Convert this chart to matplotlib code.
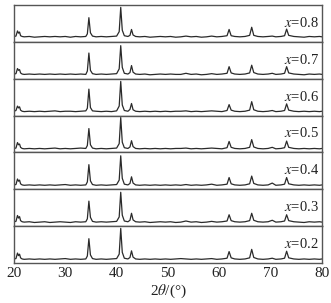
import matplotlib
matplotlib.use("Agg")
import matplotlib.pyplot as plt

plt.rcParams["mathtext.fontset"] = "stix"

# 2theta grid (deg) shared by every pattern
two_theta = [
    20.0, 20.4, 20.7, 20.9, 21.1, 21.3, 21.6, 22.0, 23.0, 24.0,
    25.0, 26.0, 27.0, 28.0, 29.0, 30.0, 31.0, 32.0, 33.0, 34.0,
    34.3, 34.6, 34.9, 35.3, 36.0, 37.0, 38.0, 39.0, 40.0, 40.5,
    40.8, 41.1, 41.5, 42.2, 42.6, 42.9, 43.2, 43.7, 44.5, 45.5,
    46.5, 47.5, 48.5, 49.5, 50.5, 51.5, 52.5, 53.5, 54.5, 55.5,
    56.5, 57.5, 58.5, 59.5, 60.5, 61.5, 61.9, 62.3, 63.0, 64.0,
    65.0, 65.9, 66.3, 66.7, 67.5, 68.5, 69.5, 70.3, 71.0, 72.0,
    72.7, 73.1, 73.5, 74.5, 75.5, 76.5, 77.5, 78.5, 79.5, 80.0,
]

labels = ["0.8", "0.7", "0.6", "0.5", "0.4", "0.3", "0.2"]

# intensities (a.u.), top panel to bottom
i_08 = [15, 16, 30, 24, 27, 17, 15, 14, 15, 13,
        14, 15, 14, 15, 14, 15, 13, 15, 14, 15,
        22, 66, 25, 16, 14, 15, 14, 15, 16, 28,
        94, 32, 17, 15, 18, 34, 19, 15, 14, 15,
        13, 14, 15, 14, 15, 13, 14, 16, 14, 15,
        13, 14, 16, 14, 15, 17, 34, 17, 15, 14,
        15, 18, 40, 18, 15, 14, 15, 16, 14, 15,
        17, 35, 18, 15, 14, 13, 15, 14, 15, 14]
i_07 = [13, 14, 28, 23, 25, 16, 13, 12, 13, 12,
        13, 12, 13, 12, 13, 12, 13, 12, 13, 12,
        21, 70, 23, 14, 12, 13, 12, 13, 14, 27,
        90, 31, 15, 13, 17, 36, 18, 13, 12, 13,
        11, 12, 13, 12, 13, 12, 12, 15, 12, 13,
        11, 12, 14, 12, 13, 15, 33, 16, 13, 12,
        13, 16, 37, 17, 13, 12, 13, 15, 12, 13,
        15, 33, 16, 13, 12, 11, 13, 12, 13, 12]
i_06 = [12, 14, 26, 21, 24, 15, 12, 11, 12, 11,
        12, 11, 12, 13, 11, 12, 12, 11, 12, 13,
        20, 72, 22, 13, 12, 11, 12, 11, 13, 26,
        93, 29, 14, 12, 17, 33, 16, 12, 11, 12,
        11, 12, 11, 12, 11, 12, 12, 13, 11, 12,
        11, 12, 13, 12, 11, 14, 30, 15, 12, 11,
        12, 15, 38, 16, 12, 11, 12, 14, 11, 12,
        14, 32, 15, 12, 11, 12, 11, 12, 11, 12]
i_05 = [11, 12, 27, 21, 23, 14, 11, 10, 11, 10,
        11, 10, 11, 12, 10, 11, 10, 11, 12, 11,
        19, 65, 21, 12, 10, 11, 10, 11, 12, 24,
        95, 28, 13, 11, 15, 32, 16, 11, 10, 11,
        10, 11, 10, 11, 10, 11, 11, 12, 10, 11,
        10, 11, 12, 11, 10, 13, 30, 14, 11, 10,
        11, 14, 35, 15, 11, 10, 11, 14, 10, 11,
        13, 31, 14, 11, 10, 11, 10, 11, 10, 11]
i_04 = [12, 13, 28, 22, 25, 15, 12, 11, 12, 11,
        12, 11, 12, 11, 12, 13, 11, 12, 11, 12,
        20, 67, 23, 13, 11, 12, 11, 12, 13, 25,
        91, 30, 14, 12, 16, 34, 17, 12, 11, 12,
        11, 12, 11, 12, 11, 12, 11, 13, 11, 12,
        11, 12, 14, 11, 12, 14, 32, 15, 12, 11,
        12, 15, 36, 16, 12, 11, 12, 17, 11, 12,
        14, 32, 15, 12, 11, 12, 11, 12, 11, 12]
i_03 = [12, 13, 29, 22, 26, 15, 12, 11, 12, 10,
        11, 12, 10, 11, 12, 11, 10, 12, 11, 12,
        20, 68, 24, 13, 11, 12, 11, 12, 13, 25,
        92, 30, 14, 12, 16, 35, 17, 12, 11, 12,
        10, 11, 12, 11, 12, 10, 11, 14, 11, 12,
        10, 11, 13, 11, 12, 14, 31, 15, 12, 11,
        12, 15, 35, 16, 12, 11, 12, 16, 11, 12,
        14, 31, 15, 12, 11, 10, 12, 11, 12, 11]
i_02 = [11, 12, 27, 20, 24, 14, 11, 10, 11, 10,
        11, 10, 11, 10, 11, 12, 10, 11, 10, 11,
        19, 66, 22, 12, 10, 11, 10, 11, 12, 24,
        94, 29, 13, 11, 15, 33, 16, 11, 10, 11,
        10, 11, 10, 11, 10, 11, 12, 11, 10, 11,
        10, 11, 12, 10, 11, 13, 31, 14, 11, 10,
        11, 14, 37, 15, 11, 10, 11, 13, 10, 11,
        13, 32, 14, 11, 10, 11, 10, 11, 10, 11]

patterns = [i_08, i_07, i_06, i_05, i_04, i_03, i_02]

serif = ["Liberation Serif", "DejaVu Serif"]

fig, axes = plt.subplots(7, 1, figsize=(3.31, 3.03), dpi=100, sharex=True)
fig.subplots_adjust(left=0.042, right=0.973, top=0.983, bottom=0.132, hspace=0)

for ax, y, lab in zip(axes, patterns, labels):
    ax.plot(two_theta, y, color="#2a2a2a", lw=0.9)
    ax.set_xlim(20, 80)
    ax.set_ylim(0, 100)
    ax.set_yticks([])
    for s in ax.spines.values():
        s.set_color("#555555")
        s.set_linewidth(1.0)
    ax.tick_params(axis="x", length=0)
    ax.text(0.99, 0.52, r"$x$=" + lab, transform=ax.transAxes,
            ha="right", va="center", fontsize=10.5, family=serif, color="#222222")

axes[-1].set_xticks([20, 30, 40, 50, 60, 70, 80])
for t in axes[-1].get_xticklabels():
    t.set_family(serif)
    t.set_fontsize(11)
    t.set_color("#222222")
axes[-1].tick_params(axis="x", pad=3)
axes[-1].set_xlabel(r"2$\theta$/(°)", family=serif, fontsize=11,
                    color="#222222", labelpad=2)

fig.savefig("out.png", dpi=100)
